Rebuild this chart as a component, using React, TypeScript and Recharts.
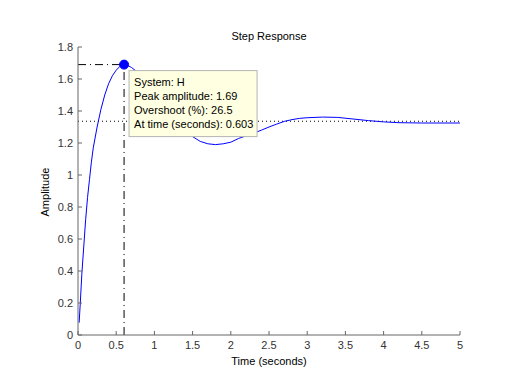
import React from 'react';
import { LineChart, Line, XAxis, YAxis, ReferenceLine, ReferenceDot } from 'recharts';

// ---- data ----
const TIME = [
  0.015, 0.03, 0.05, 0.075, 0.1, 0.125, 0.15, 0.175, 0.2, 0.25, 0.3, 0.35, 0.4, 0.45, 0.5, 0.55,
  0.603, 0.65, 0.7, 0.8, 0.9, 1.0, 1.1, 1.2, 1.3, 1.4, 1.5, 1.6, 1.7, 1.8, 1.9, 2.0, 2.1, 2.2,
  2.3, 2.4, 2.5, 2.6, 2.7, 2.8, 2.9, 3.0, 3.2, 3.4, 3.6, 3.8, 4.0, 4.2, 4.5, 5.0,
];
const AMPLITUDE = [
  0.077, 0.2, 0.38, 0.55, 0.72, 0.86, 0.97, 1.08, 1.17, 1.3, 1.41, 1.5, 1.57, 1.62, 1.655, 1.68,
  1.69, 1.685, 1.672, 1.635, 1.585, 1.525, 1.46, 1.4, 1.34, 1.285, 1.24, 1.21, 1.195, 1.19, 1.195,
  1.205, 1.228, 1.245, 1.262, 1.28, 1.3, 1.318, 1.335, 1.346, 1.354, 1.358, 1.362, 1.36, 1.35,
  1.34, 1.332, 1.327, 1.325, 1.325,
];
const X_TICKS = [0, 0.5, 1, 1.5, 2, 2.5, 3, 3.5, 4, 4.5, 5];
const Y_TICKS = [0, 0.2, 0.4, 0.6, 0.8, 1, 1.2, 1.4, 1.6, 1.8];
const X_DOMAIN = [0, 5];
const Y_DOMAIN = [0, 1.8];
const STEADY_STATE = 1.336;
const PEAK_TIME = 0.603;
const PEAK_AMPLITUDE = 1.69;
const OVERSHOOT = 26.5;
const SYSTEM_NAME = 'H';
const TITLE = 'Step Response';
const X_LABEL = 'Time (seconds)';
const Y_LABEL = 'Amplitude';
const ANNOTATION_LINES = [
  `System: ${SYSTEM_NAME}`,
  `Peak amplitude: ${PEAK_AMPLITUDE}`,
  `Overshoot (%): ${OVERSHOOT}`,
  `At time (seconds): ${PEAK_TIME}`,
];

const data = TIME.map((t, i) => ({ t, v: AMPLITUDE[i] }));

const FONT = "'Liberation Sans', Arial, Helvetica, sans-serif";
const AXIS_COLOR = '#666666';
const TICK_COLOR = '#333333';
const DASH_DOT = '8 4 1 4';

const AnnotationBox = (props: any) => {
  const { cx, cy } = props;
  if (cx == null || cy == null) return null;
  const bx = cx + 5;
  const by = cy + 6;
  return (
    <g>
      <rect x={bx} y={by} width={128} height={66} fill="#ffffe1" stroke="#b4b4b4" strokeWidth={1} />
      {ANNOTATION_LINES.map((line, i) => (
        <text
          key={i}
          x={cx + 10}
          y={cy + 21.5 + i * 14}
          fontSize={11}
          fontFamily={FONT}
          fill="#000"
        >
          {line}
        </text>
      ))}
    </g>
  );
};

export default function App() {
  return (
    <div style={{ position: 'absolute', left: 0, top: 0, background: '#fff' }}>
      <LineChart
        width={508}
        height={376}
        data={data}
        margin={{ top: 47, right: 48, bottom: 0, left: 0 }}
        style={{ fontFamily: FONT }}
      >
        <XAxis
          dataKey="t"
          type="number"
          domain={X_DOMAIN}
          ticks={X_TICKS}
          interval={0}
          allowDataOverflow
          height={41}
          tickSize={-4}
          tickMargin={10}
          axisLine={{ stroke: AXIS_COLOR }}
          tickLine={{ stroke: AXIS_COLOR }}
          tick={{ fill: TICK_COLOR, fontSize: 11, fontFamily: FONT }}
        />
        <XAxis
          xAxisId="top"
          orientation="top"
          type="number"
          domain={X_DOMAIN}
          ticks={X_TICKS}
          interval={0}
          allowDataOverflow
          height={0}
          tickSize={-4}
          tick={false}
          axisLine={{ stroke: AXIS_COLOR }}
          tickLine={{ stroke: AXIS_COLOR }}
        />
        <YAxis
          type="number"
          domain={Y_DOMAIN}
          ticks={Y_TICKS}
          interval={0}
          allowDataOverflow
          width={78}
          tickSize={-4}
          tickMargin={9}
          axisLine={{ stroke: AXIS_COLOR }}
          tickLine={{ stroke: AXIS_COLOR }}
          tick={{ fill: TICK_COLOR, fontSize: 11, fontFamily: FONT }}
        />
        <YAxis
          yAxisId="right"
          orientation="right"
          type="number"
          domain={Y_DOMAIN}
          ticks={Y_TICKS}
          interval={0}
          allowDataOverflow
          width={0}
          tickSize={-4}
          tick={false}
          axisLine={{ stroke: AXIS_COLOR }}
          tickLine={{ stroke: AXIS_COLOR }}
        />
        <ReferenceLine y={STEADY_STATE} stroke="#000" strokeDasharray="1 3" strokeWidth={1} />
        <ReferenceLine
          segment={[
            { x: 0, y: PEAK_AMPLITUDE },
            { x: PEAK_TIME, y: PEAK_AMPLITUDE },
          ]}
          stroke="#000"
          strokeDasharray={DASH_DOT}
          strokeWidth={1}
        />
        <ReferenceLine
          segment={[
            { x: PEAK_TIME, y: 0 },
            { x: PEAK_TIME, y: PEAK_AMPLITUDE },
          ]}
          stroke="#000"
          strokeDasharray={DASH_DOT}
          strokeWidth={1}
        />
        <Line
          dataKey="v"
          type="linear"
          stroke="#0000ff"
          strokeWidth={1}
          dot={false}
          activeDot={false}
          isAnimationActive={false}
        />
        <ReferenceDot x={PEAK_TIME} y={PEAK_AMPLITUDE} r={4.5} fill="#0000ff" stroke="#0000ff" />
        <ReferenceDot x={PEAK_TIME} y={PEAK_AMPLITUDE} r={0} shape={AnnotationBox} />
        <text x={269} y={40} textAnchor="middle" fontSize={11} fontFamily={FONT} fill="#000">
          {TITLE}
        </text>
        <text x={269} y={365} textAnchor="middle" fontSize={11} fontFamily={FONT} fill="#000">
          {X_LABEL}
        </text>
        <text
          x={49}
          y={192}
          textAnchor="middle"
          fontSize={11}
          fontFamily={FONT}
          fill="#000"
          transform="rotate(-90 49 192)"
        >
          {Y_LABEL}
        </text>
      </LineChart>
    </div>
  );
}
